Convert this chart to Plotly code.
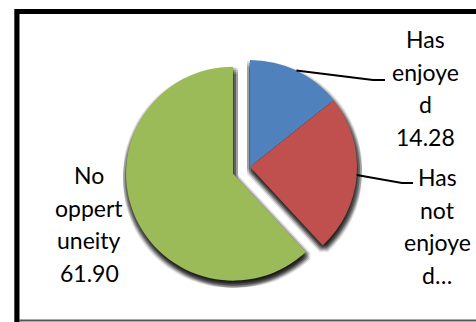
import math
import plotly.graph_objects as go

# ---- data -----------------------------------------------------------
categories = ["Has enjoyed", "Has not enjoyed", "No oppertuneity"]
values = [14.28, 23.82, 61.90]
# wrapped category text as printed beside each slice
label_words = [["Has", "enjoye", "d"], ["Has", "not", "enjoye", "d…"], ["No", "oppert", "uneity"]]
show_value = [True, False, True]
colors = ["#4F81BD", "#C0504D", "#9BBB59"]
pulls = [0, 0, 0.17]

# ---- layout constants (pixels) ---------------------------------------
W, H = 476, 322
CX, CY, R = 250, 167, 107
FONT = dict(family="Lato, 'Open Sans', sans-serif", size=23, color="black")
LINE_STEP = 32.7
label_cx = [425, 437, 89]
label_top = [39, 177, 175]
# leader elbows: (elbow point, end point) for labelled slices with a connector
leaders = {0: ((373, 80), (385, 80)), 1: ((402, 183), (413, 183))}


def px(x):
    return x / W


def py(y):
    return 1 - y / H


half = R * (1 + max(pulls))


def domain(dx=0.0, dy=0.0):
    return dict(x=[px(CX - half + dx), px(CX + half + dx)],
                y=[py(CY + half + dy), py(CY - half + dy)])


fig = go.Figure()

# soft drop shadow: stacked translucent copies of the pie
for sdx in [-3, -1, 1, 3, 5]:
    for sdy in [1, 3, 5, 7]:
        fig.add_trace(go.Pie(
            labels=categories, values=values, pull=pulls, sort=False,
            direction="clockwise", rotation=0, textinfo="none",
            hoverinfo="skip", showlegend=False,
            marker=dict(colors=["rgba(0,0,0,0.11)"] * len(values)),
            domain=domain(sdx, sdy),
        ))

fig.add_trace(go.Pie(
    labels=categories, values=values, pull=pulls, sort=False,
    direction="clockwise", rotation=0, textinfo="none",
    hoverinfo="label+value", showlegend=False,
    marker=dict(colors=colors, line=dict(width=0)),
    domain=domain(),
))

annotations = []
shapes = []
total = sum(values)
cum = 0.0
for i, v in enumerate(values):
    mid = (cum + v / 2) / total * 2 * math.pi
    cum += v
    lines = list(label_words[i])
    if show_value[i]:
        lines.append(f"{v:.2f}")
    for k, t in enumerate(lines):
        annotations.append(dict(
            text=t, x=px(label_cx[i]), y=py(label_top[i] + k * LINE_STEP),
            xref="paper", yref="paper", xanchor="center", yanchor="middle",
            showarrow=False, font=FONT,
        ))
    if i in leaders:
        sx = CX + R * math.sin(mid)
        sy = CY - R * math.cos(mid)
        (ex, ey), (fx, fy) = leaders[i]
        shapes.append(dict(
            type="path", xref="paper", yref="paper",
            path=f"M {px(sx)} {py(sy)} L {px(ex)} {py(ey)} L {px(fx)} {py(fy)}",
            line=dict(color="black", width=2),
        ))

# chart frame
shapes += [
    dict(type="line", xref="paper", yref="paper", x0=px(14.5), x1=px(14.5), y0=py(9), y1=py(H),
         line=dict(color="#999999", width=1)),
    dict(type="line", xref="paper", yref="paper", x0=px(17), x1=px(17), y0=py(9), y1=py(H),
         line=dict(color="black", width=5)),
    dict(type="line", xref="paper", yref="paper", x0=px(15), x1=px(W + 5), y0=py(11.5), y1=py(11.5),
         line=dict(color="black", width=5)),
    dict(type="line", xref="paper", yref="paper", x0=px(19), x1=px(W + 5), y0=py(320.5), y1=py(320.5),
         line=dict(color="#555555", width=2)),
]

fig.update_layout(
    width=W, height=H, margin=dict(l=0, r=0, t=0, b=0),
    paper_bgcolor="white", plot_bgcolor="white",
    annotations=annotations, shapes=shapes, showlegend=False,
)

fig.write_html("out.html")
